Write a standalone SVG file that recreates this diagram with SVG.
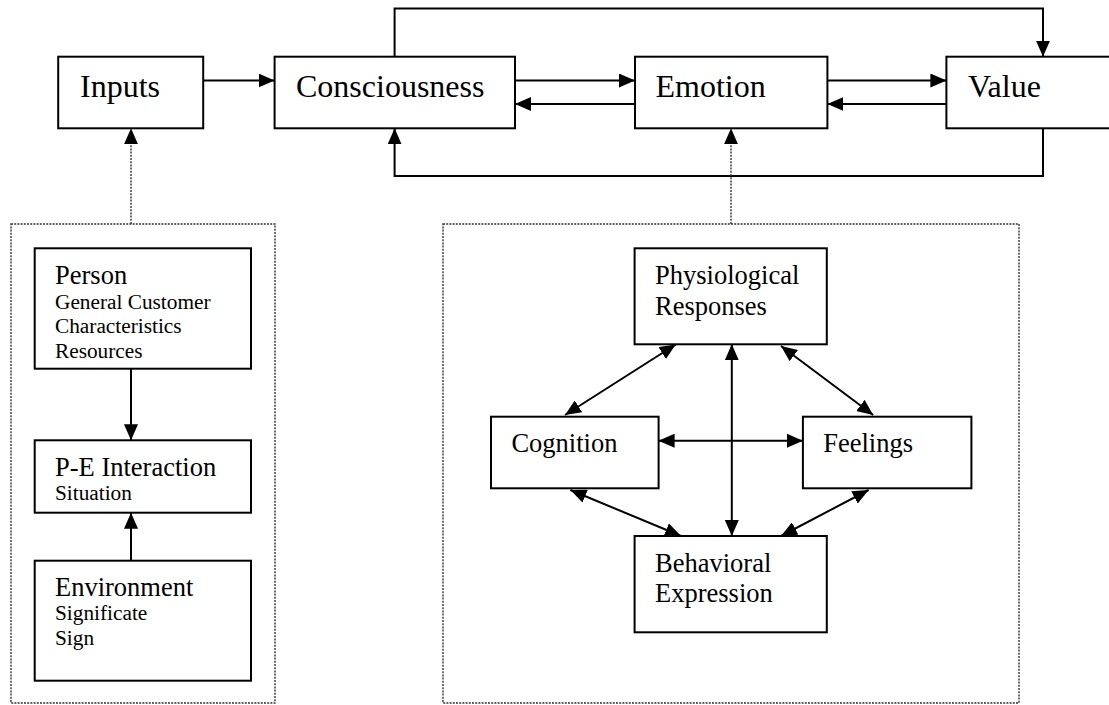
<svg xmlns="http://www.w3.org/2000/svg" width="1109" height="705" viewBox="0 0 1109 705">
<defs>
<style>
.box{fill:#fff;stroke:#000;stroke-width:2}
.frame{fill:none;stroke:#333;stroke-width:1.4;stroke-dasharray:2 1.2}
.ln{fill:none;stroke:#000;stroke-width:2}
.dot{fill:none;stroke:#333;stroke-width:1.4;stroke-dasharray:2 1.2}
.big{font-family:"Liberation Serif","Times New Roman",serif;font-size:32px;fill:#000}
.mid{font-family:"Liberation Serif","Times New Roman",serif;font-size:26.5px;fill:#000}
.sm{font-family:"Liberation Serif","Times New Roman",serif;font-size:21.3px;fill:#000}
</style>
<marker id="ah" markerUnits="userSpaceOnUse" markerWidth="16" markerHeight="14" refX="16" refY="7" orient="auto-start-reverse" viewBox="0 0 16 14">
<path d="M0,0 L16,7 L0,14 z" fill="#000"/>
</marker>
</defs>
<rect width="1109" height="705" fill="#fff"/>

<g id="frames">
<rect class="frame" x="11" y="224" width="264" height="479"/>
<rect class="frame" x="443" y="224" width="576" height="479"/>
</g>

<g id="connectors">
<line class="ln" x1="203" y1="80.5" x2="274.6" y2="80.5" marker-end="url(#ah)"/>
<line class="ln" x1="515" y1="80.5" x2="635" y2="80.5" marker-end="url(#ah)"/>
<line class="ln" x1="635" y1="104" x2="515" y2="104" marker-end="url(#ah)"/>
<line class="ln" x1="827.4" y1="80.5" x2="946.4" y2="80.5" marker-end="url(#ah)"/>
<line class="ln" x1="946.4" y1="104" x2="827.4" y2="104" marker-end="url(#ah)"/>
<path class="ln" d="M394.6,56.7 V8.5 H1043 V56.7" marker-end="url(#ah)"/>
<path class="ln" d="M1043,128.3 V176 H394.6 V128.3" marker-end="url(#ah)"/>
<line class="dot" x1="131" y1="224" x2="131" y2="140"/>
<line class="dot" x1="731" y1="224" x2="731" y2="140"/>
<line class="ln" x1="131" y1="143" x2="131" y2="128.3" marker-end="url(#ah)" style="stroke-width:0"/>
<line class="ln" x1="731" y1="143" x2="731" y2="128.3" marker-end="url(#ah)" style="stroke-width:0"/>
<line class="ln" x1="131" y1="368.7" x2="131" y2="440.3" marker-end="url(#ah)"/>
<line class="ln" x1="131" y1="560.7" x2="131" y2="512.7" marker-end="url(#ah)"/>
<line class="ln" x1="658.6" y1="440.7" x2="802.9" y2="440.7" marker-start="url(#ah)" marker-end="url(#ah)"/>
<line class="ln" x1="731.8" y1="344.3" x2="731.8" y2="536" marker-start="url(#ah)" marker-end="url(#ah)"/>
<line class="ln" x1="565" y1="415" x2="675.7" y2="344.5" marker-start="url(#ah)" marker-end="url(#ah)"/>
<line class="ln" x1="781" y1="346" x2="873.2" y2="415" marker-start="url(#ah)" marker-end="url(#ah)"/>
<line class="ln" x1="570.4" y1="490" x2="681" y2="536" marker-start="url(#ah)" marker-end="url(#ah)"/>
<line class="ln" x1="868.6" y1="490" x2="781" y2="536" marker-start="url(#ah)" marker-end="url(#ah)"/>
</g>

<g id="inputs"><rect class="box" x="58.2" y="56.7" width="145" height="71.6"/><text class="big" x="80" y="96.7">Inputs</text></g>
<g id="consciousness"><rect class="box" x="274.6" y="56.7" width="240.4" height="71.6"/><text class="big" x="296" y="96.7">Consciousness</text></g>
<g id="emotion"><rect class="box" x="635" y="56.7" width="192.4" height="71.6"/><text class="big" x="655.5" y="96.7">Emotion</text></g>
<g id="value"><rect class="box" x="946.4" y="56.7" width="170" height="71.6"/><text class="big" x="968" y="96.7">Value</text></g>

<g id="person"><rect class="box" x="34.7" y="248.3" width="216.3" height="120.4"/>
<text class="mid" x="55" y="284">Person</text>
<text class="sm" x="55" y="308.5">General Customer</text>
<text class="sm" x="55" y="333.3">Characteristics</text>
<text class="sm" x="55" y="357.5">Resources</text></g>
<g id="pe-interaction"><rect class="box" x="34.7" y="440.3" width="216.3" height="72.4"/>
<text class="mid" x="55" y="476">P-E Interaction</text>
<text class="sm" x="55" y="500">Situation</text></g>
<g id="environment"><rect class="box" x="34.7" y="560.7" width="216.3" height="120"/>
<text class="mid" x="55" y="595.5">Environment</text>
<text class="sm" x="55" y="620">Significate</text>
<text class="sm" x="55" y="645">Sign</text></g>

<g id="physiological"><rect class="box" x="634.6" y="248.3" width="192.2" height="96"/>
<text class="mid" x="655" y="283.5">Physiological</text>
<text class="mid" x="655" y="315">Responses</text></g>
<g id="cognition"><rect class="box" x="491" y="416.7" width="167.6" height="71.6"/>
<text class="mid" x="511.4" y="451.7">Cognition</text></g>
<g id="feelings"><rect class="box" x="802.9" y="416.7" width="168.5" height="71.6"/>
<text class="mid" x="823.2" y="451.7">Feelings</text></g>
<g id="behavioral"><rect class="box" x="634.6" y="536" width="192.2" height="96.3"/>
<text class="mid" x="655" y="571.7">Behavioral</text>
<text class="mid" x="655" y="601.7">Expression</text></g>
</svg>
